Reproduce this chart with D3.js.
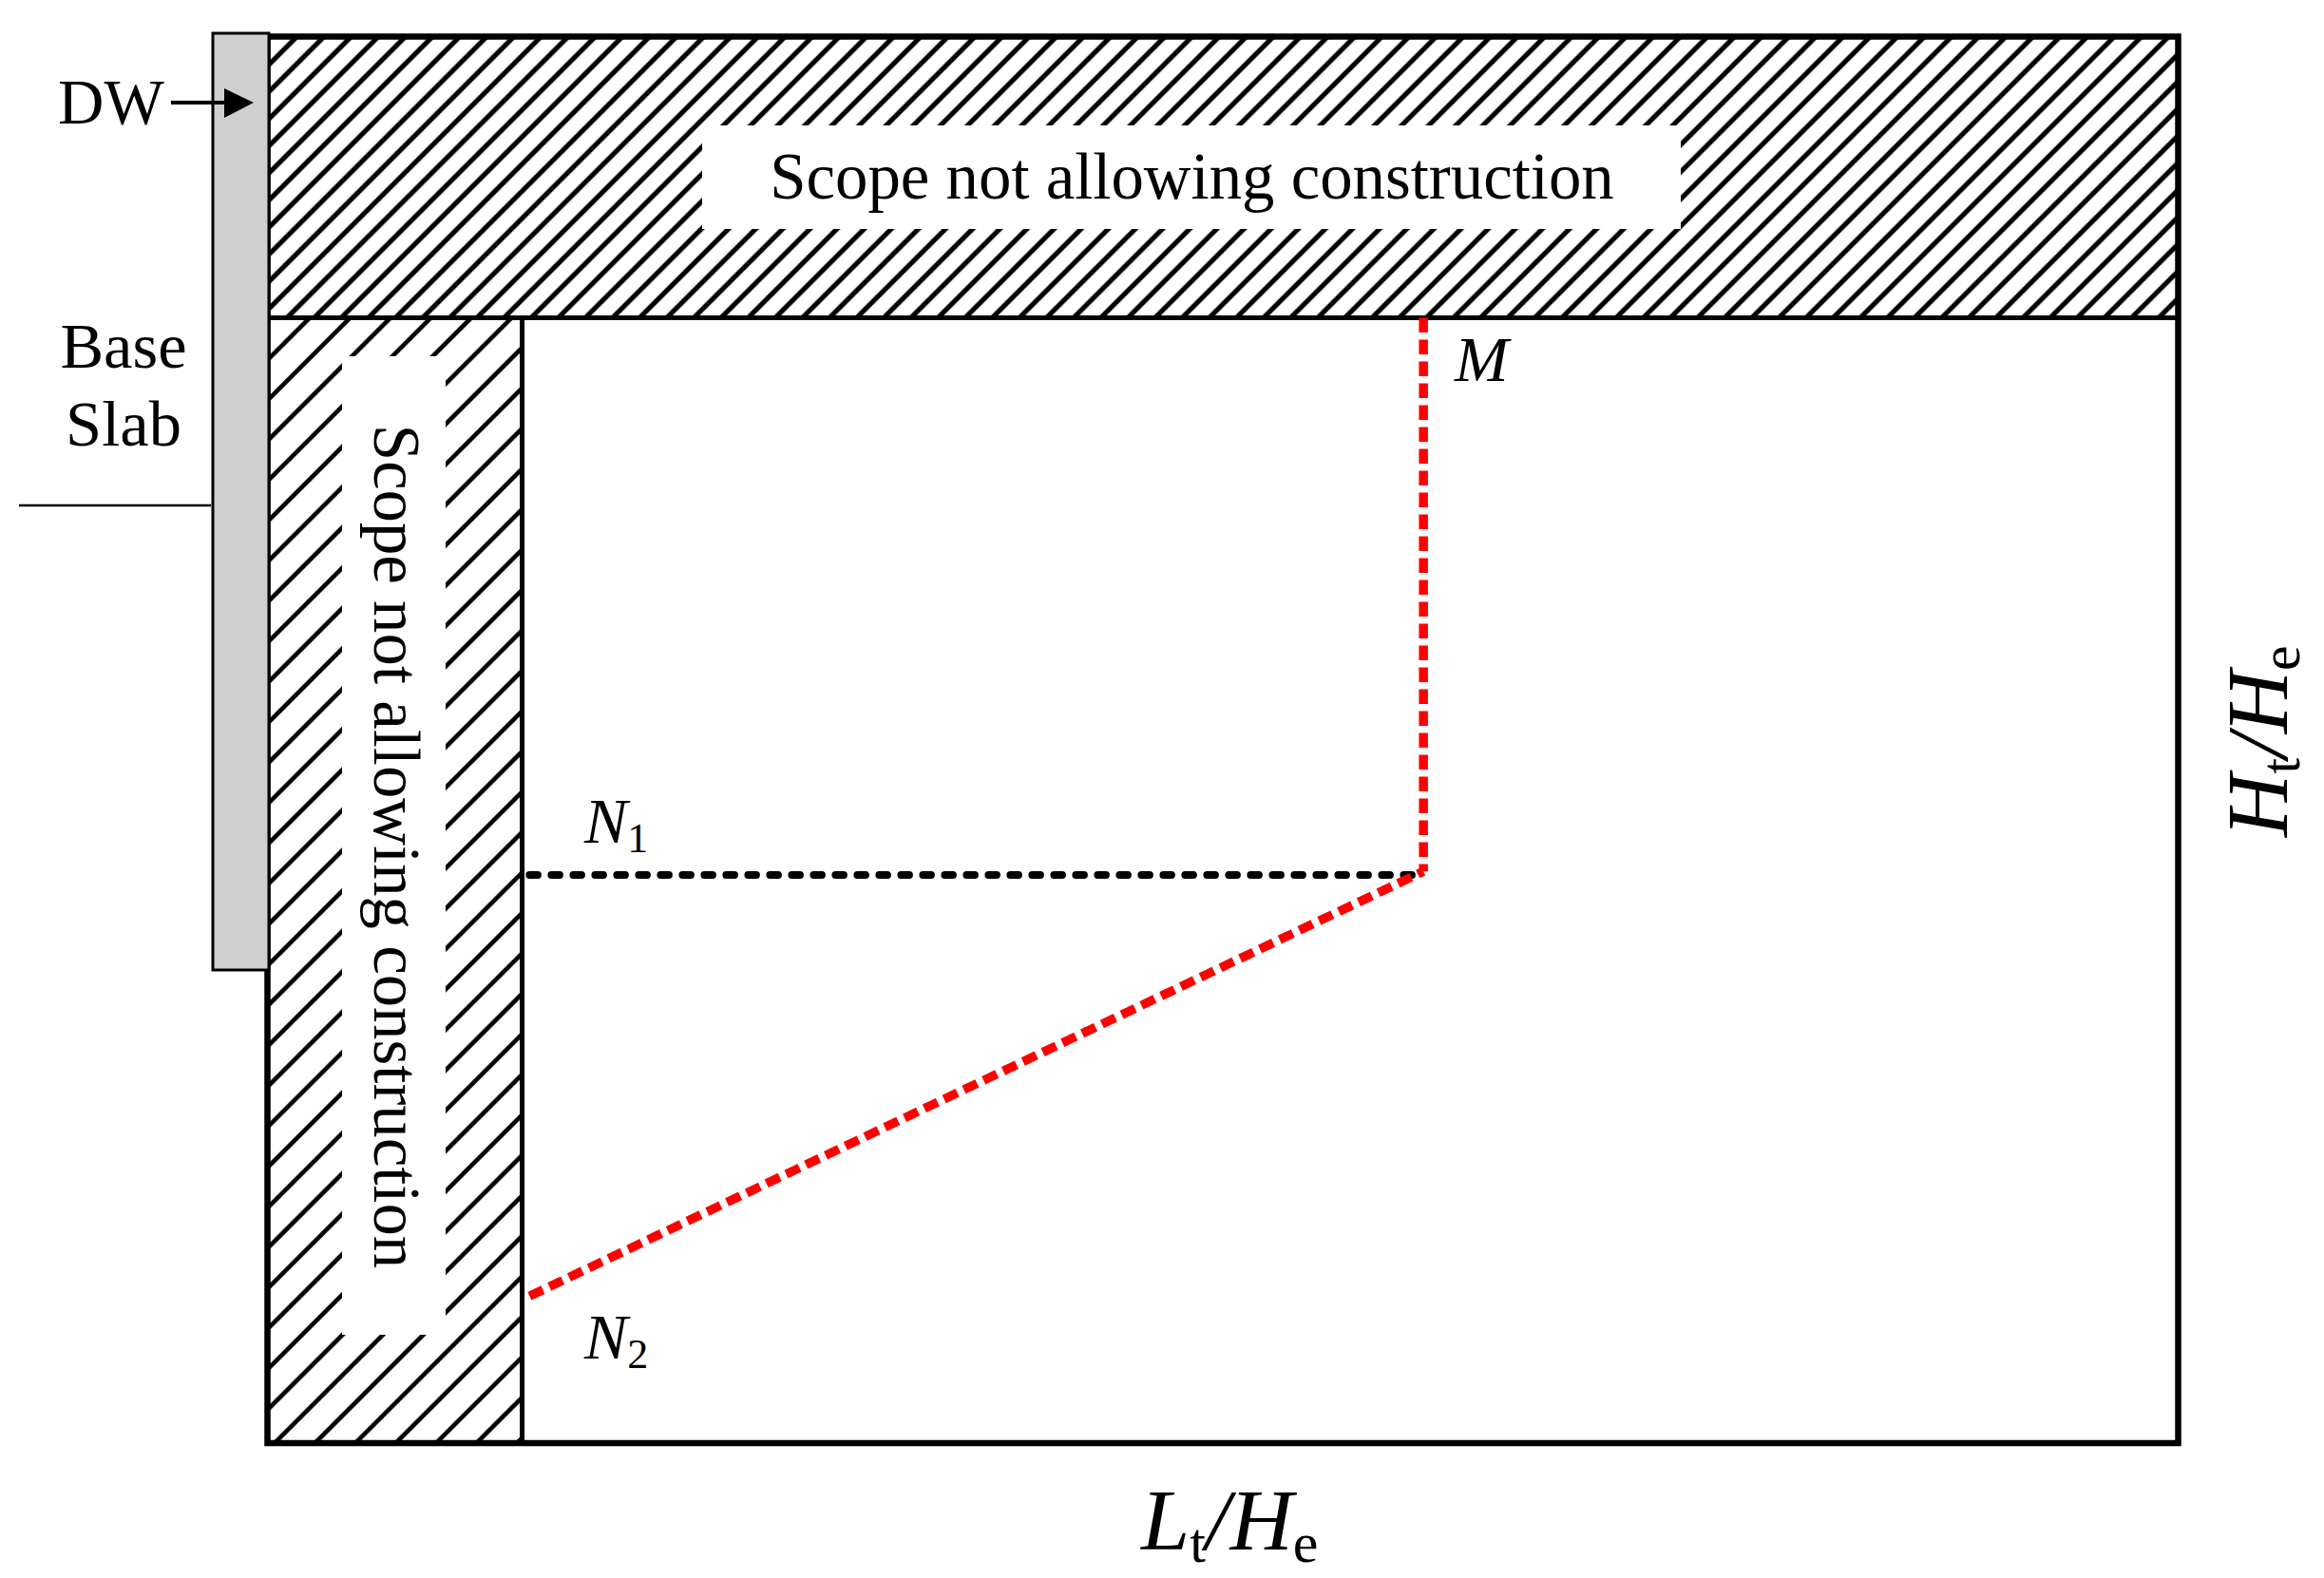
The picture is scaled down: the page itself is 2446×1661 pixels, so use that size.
<!DOCTYPE html>
<html lang="en">
<head>
    <meta charset="UTF-8">
    <title>Scope not allowing construction</title>
    <style>
        html, body {
            margin: 0;
            background: #fff;
        }
        svg {
            display: block;
        }
        text {
            font-family: "Liberation Serif", "Times New Roman", serif;
            fill: #000;
        }
        .frame {
            fill: none;
            stroke: #000;
        }
    </style>
    <script src="https://d3js.org/d3.v7.min.js"></script>
</head>
<body>
    <svg width="2446" height="1661"></svg>
    <script>
        // values in percent of the plot frame
        var topBandY = [80, 100];
        var leftBandX = [0, 13.33];
        var lineM = [[60.5, 80], [60.5, 40.65]];
        var lineN2 = [[13.72, 10.45], [60.5, 40.65]];
        var lineN1 = [[13.72, 40.4], [60.5, 40.4]];

        var pointLabels = [
            { name: "M", sub: "", px: 1531, py: 401 },
            { name: "N", sub: "1", px: 615, py: 887 },
            { name: "N", sub: "2", px: 615, py: 1430 }
        ];
        var baseSlabLines = ["Base", "Slab"];
        var scopeText = "Scope not allowing construction";

        var svg = d3.select("svg");

        var x = d3.scaleLinear().domain([0, 100]).range([281.5, 2292.5]);
        var y = d3.scaleLinear().domain([0, 100]).range([1519, 38.5]);

        var line = d3.line()
            .x(function(d) { return x(d[0]); })
            .y(function(d) { return y(d[1]); });

        // hatching: stripes along x + y = offset, every step px along an axis
        function hatch(id, step, offset, weight) {
            var w = step / Math.SQRT2;
            var p = svg.append("pattern")
                .attr("id", id)
                .attr("patternUnits", "userSpaceOnUse")
                .attr("width", w)
                .attr("height", w)
                .attr("patternTransform", "rotate(45) translate(" + (offset / Math.SQRT2 - w / 2) + ",0)");
            p.append("rect")
                .attr("x", w / 2 - weight / 2)
                .attr("width", weight)
                .attr("height", w)
                .attr("fill", "#000");
        }
        hatch("hatchTop", 28.55, 2321, 5.2);
        hatch("hatchLeft", 42.5, 1383, 4.6);

        svg.append("rect")
            .attr("x", x(0))
            .attr("y", y(topBandY[1]))
            .attr("width", x(100) - x(0))
            .attr("height", y(topBandY[0]) - y(topBandY[1]))
            .attr("fill", "url(#hatchTop)");

        svg.append("rect")
            .attr("x", x(leftBandX[0]))
            .attr("y", y(topBandY[0]))
            .attr("width", x(leftBandX[1]) - x(leftBandX[0]))
            .attr("height", y(0) - y(topBandY[0]))
            .attr("fill", "url(#hatchLeft)");

        // white boxes behind the two scope labels
        svg.append("rect").attr("x", 739).attr("y", 132).attr("width", 1030).attr("height", 109).attr("fill", "#fff");
        svg.append("rect").attr("x", 360).attr("y", 375).attr("width", 109).attr("height", 1030).attr("fill", "#fff");

        // frame and dividers
        svg.append("rect")
            .attr("class", "frame")
            .attr("x", x(0))
            .attr("y", y(100))
            .attr("width", x(100) - x(0))
            .attr("height", y(0) - y(100))
            .attr("stroke-width", 6.5);
        svg.append("path")
            .attr("class", "frame")
            .attr("d", line([[0, topBandY[0]], [100, topBandY[0]]]))
            .attr("stroke-width", 5);
        svg.append("path")
            .attr("class", "frame")
            .attr("d", line([[leftBandX[1], topBandY[0]], [leftBandX[1], 0]]))
            .attr("stroke-width", 5);

        // diaphragm wall
        svg.append("rect")
            .attr("x", 224)
            .attr("y", 35)
            .attr("width", 59)
            .attr("height", 986)
            .attr("fill", "#cfcfcf")
            .attr("stroke", "#000")
            .attr("stroke-width", 3);

        // base slab level and the DW arrow
        svg.append("line")
            .attr("x1", 20).attr("x2", 222)
            .attr("y1", 532).attr("y2", 532)
            .attr("stroke", "#000")
            .attr("stroke-width", 2.5);
        svg.append("line")
            .attr("x1", 180).attr("x2", 240)
            .attr("y1", 108).attr("y2", 108)
            .attr("stroke", "#000")
            .attr("stroke-width", 4);
        svg.append("path")
            .attr("d", "M236,93L267,108L236,124Z")
            .attr("fill", "#000");

        // dashed boundary lines
        svg.append("path")
            .attr("d", line(lineN1))
            .attr("fill", "none")
            .attr("stroke", "#000")
            .attr("stroke-width", 8)
            .attr("stroke-linecap", "round")
            .attr("stroke-dasharray", "8.5 14.5");
        [lineM, lineN2].forEach(function(pts) {
            svg.append("path")
                .attr("d", line(pts))
                .attr("fill", "none")
                .attr("stroke", "#ff0000")
                .attr("stroke-width", 9.5)
                .attr("stroke-dasharray", "15.5 7.5");
        });

        // text
        svg.append("text")
            .attr("x", 61)
            .attr("y", 129.5)
            .attr("font-size", 67)
            .text("DW");

        svg.selectAll("text.slab")
            .data(baseSlabLines)
            .enter().append("text")
            .attr("class", "slab")
            .attr("x", 130)
            .attr("y", function(d, i) { return 387 + i * 82; })
            .attr("text-anchor", "middle")
            .attr("font-size", 68.5)
            .text(function(d) { return d; });

        svg.append("text")
            .attr("x", 1254.5)
            .attr("y", 209)
            .attr("text-anchor", "middle")
            .attr("font-size", 68.8)
            .text(scopeText);

        svg.append("text")
            .attr("transform", "translate(394,891) rotate(90)")
            .attr("text-anchor", "middle")
            .attr("font-size", 68.8)
            .text(scopeText);

        var labels = svg.selectAll("text.point")
            .data(pointLabels)
            .enter().append("text")
            .attr("class", "point")
            .attr("x", function(d) { return d.px; })
            .attr("y", function(d) { return d.py; })
            .attr("font-size", 68);
        labels.append("tspan")
            .attr("font-style", "italic")
            .text(function(d) { return d.name; });
        labels.append("tspan")
            .attr("font-size", 44)
            .attr("dy", 10)
            .text(function(d) { return d.sub; });

        // axis titles, same ratio on both axes
        function ratioTitle(g, a) {
            var t = g.append("text").attr("font-size", 92);
            t.append("tspan").attr("font-style", "italic").text(a);
            t.append("tspan").attr("font-size", 60).attr("dy", 13).text("t");
            t.append("tspan").attr("font-style", "italic").attr("dy", -13).text("/H");
            t.append("tspan").attr("font-size", 60).attr("dy", 13).text("e");
        }
        ratioTitle(svg.append("g").attr("transform", "translate(1201,1631)"), "L");
        ratioTitle(svg.append("g").attr("transform", "translate(2407,881) rotate(-90)"), "H");
    </script>
</body>
</html>
